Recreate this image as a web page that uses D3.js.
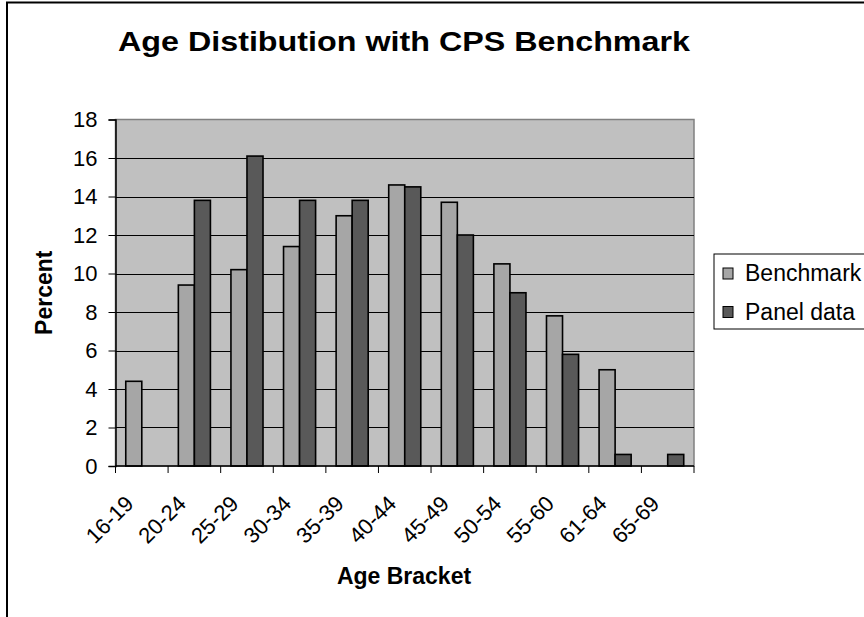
<!DOCTYPE html>
<html>
<head>
<meta charset="utf-8">
<script src="https://cdn.jsdelivr.net/npm/d3@7"></script>
<style>
    body { margin: 0; background: #ffffff; }
    text { font-family: "Liberation Sans", Arial, sans-serif; fill: #000000; }
</style>
</head>
<body>
<div id="chart"></div>
<script>
// Data
var categories = ["16-19", "20-24", "25-29", "30-34", "35-39", "40-44", "45-49", "50-54", "55-60", "61-64", "65-69"];
var benchmark = [4.4, 9.4, 10.2, 11.4, 13.0, 14.6, 13.7, 10.5, 7.8, 5.0, 0];
var panelData = [0, 13.8, 16.1, 13.8, 13.8, 14.5, 12.0, 9.0, 5.8, 0.6, 0.6];
var seriesNames = ["Benchmark", "Panel data"];
var yTicks = [0, 2, 4, 6, 8, 10, 12, 14, 16, 18];

// Global variables
var basewidth = 864,
    baseheight = 617,
    plot = { left: 115.5, right: 694, top: 119.5, bottom: 466 },
    colors = ["#a6a6a6", "#595959"];

var svg = d3.select("#chart").append("svg")
    .attr("width", basewidth)
    .attr("height", baseheight);

// Outer chart border (runs off the right and bottom edges)
svg.append("rect")
    .attr("x", 7)
    .attr("y", 2.5)
    .attr("width", 900)
    .attr("height", 700)
    .attr("fill", "#ffffff")
    .attr("stroke", "#000000")
    .attr("stroke-width", 2);

// setup x
var xScale = d3.scaleBand()
    .domain(categories)
    .range([plot.left, plot.right])
    .paddingInner(0)
    .paddingOuter(0);

var xInner = d3.scaleBand()
    .domain(seriesNames)
    .range([0, xScale.bandwidth()])
    .paddingInner(0)
    .paddingOuter(0.64);

// setup y
var yScale = d3.scaleLinear()
    .domain([0, 18])
    .range([plot.bottom, plot.top]);

// Plot area background
svg.append("rect")
    .attr("x", plot.left)
    .attr("y", plot.top)
    .attr("width", plot.right - plot.left)
    .attr("height", plot.bottom - plot.top)
    .attr("fill", "#c0c0c0")
    .attr("stroke", "#808080")
    .attr("stroke-width", 1.5);

// Gridlines
svg.append("g")
    .selectAll("line")
    .data(yTicks.filter(function (d) { return d > 0 && d < 18; }))
    .enter().append("line")
    .attr("x1", plot.left)
    .attr("x2", plot.right)
    .attr("y1", function (d) { return Math.round(yScale(d)) + 0.5; })
    .attr("y2", function (d) { return Math.round(yScale(d)) + 0.5; })
    .attr("stroke", "#000000")
    .attr("stroke-width", 1);

// Bars
var rows = categories.map(function (c, i) {
    return [
        { cat: c, series: seriesNames[0], value: benchmark[i] },
        { cat: c, series: seriesNames[1], value: panelData[i] }
    ];
});

svg.append("g")
    .selectAll("g")
    .data(rows)
    .enter().append("g")
    .attr("transform", function (d) { return "translate(" + xScale(d[0].cat) + ",0)"; })
    .selectAll("rect")
    .data(function (d) { return d.filter(function (e) { return e.value > 0; }); })
    .enter().append("rect")
    .attr("x", function (d) { return xInner(d.series); })
    .attr("y", function (d) { return yScale(d.value); })
    .attr("width", xInner.bandwidth())
    .attr("height", function (d) { return yScale(0) - yScale(d.value); })
    .attr("fill", function (d) { return colors[seriesNames.indexOf(d.series)]; })
    .attr("stroke", "#000000")
    .attr("stroke-width", 1.6);

// y-axis
var yAxis = d3.axisLeft(yScale)
    .tickValues(yTicks)
    .tickSize(7)
    .tickPadding(11);

var yaxis_class = svg.append("g")
    .attr("transform", "translate(" + plot.left + ",0)")
    .call(yAxis);

yaxis_class.select(".domain").attr("stroke", "#000000").attr("stroke-width", 1.5);
yaxis_class.selectAll(".tick line").attr("stroke", "#000000");
yaxis_class.selectAll(".tick text")
    .style("font-family", "'Liberation Sans', Arial, sans-serif")
    .style("font-size", "22px")
    .attr("fill", "#000000");

// x-axis, ticks between the categories
var xBounds = d3.range(categories.length + 1).map(function (i) {
    return plot.left + i * xScale.step();
});

var xaxis_class = svg.append("g");

xaxis_class.append("line")
    .attr("x1", plot.left)
    .attr("x2", plot.right)
    .attr("y1", plot.bottom)
    .attr("y2", plot.bottom)
    .attr("stroke", "#000000")
    .attr("stroke-width", 1.5);

xaxis_class.selectAll(".xtick")
    .data(xBounds)
    .enter().append("line")
    .attr("class", "xtick")
    .attr("x1", function (d) { return d; })
    .attr("x2", function (d) { return d; })
    .attr("y1", plot.bottom)
    .attr("y2", plot.bottom + 7)
    .attr("stroke", "#000000");

xaxis_class.selectAll(".xlabel")
    .data(categories)
    .enter().append("text")
    .attr("class", "xlabel")
    .attr("text-anchor", "end")
    .attr("transform", function (d) {
        return "translate(" + (xScale(d) + xScale.bandwidth() / 2 - 7) + "," + (plot.bottom + 39) + ") rotate(-45)";
    })
    .style("font-size", "22px")
    .text(function (d) { return d; });

// Title and axis labels
svg.append("text")
    .attr("x", 404)
    .attr("y", 51)
    .attr("text-anchor", "middle")
    .attr("textLength", 572)
    .attr("lengthAdjust", "spacingAndGlyphs")
    .style("font-size", "28px")
    .style("font-weight", "bold")
    .text("Age Distibution with CPS Benchmark");

svg.append("text")
    .attr("x", 404)
    .attr("y", 584)
    .attr("text-anchor", "middle")
    .style("font-size", "23px")
    .style("font-weight", "bold")
    .text("Age Bracket");

svg.append("text")
    .attr("transform", "translate(52," + ((plot.top + plot.bottom) / 2) + ") rotate(-90)")
    .attr("text-anchor", "middle")
    .style("font-size", "23px")
    .style("font-weight", "bold")
    .text("Percent");

// Legend
var legend = svg.append("g");

legend.append("rect")
    .attr("x", 714)
    .attr("y", 254)
    .attr("width", 200)
    .attr("height", 75)
    .attr("fill", "#ffffff")
    .attr("stroke", "#000000")
    .attr("stroke-width", 1);

var legendItems = legend.selectAll(".item")
    .data(seriesNames)
    .enter().append("g")
    .attr("class", "item")
    .attr("transform", function (d, i) { return "translate(723," + (273 + i * 38.5) + ")"; });

legendItems.append("rect")
    .attr("x", 0)
    .attr("y", -5)
    .attr("width", 10)
    .attr("height", 11)
    .attr("fill", function (d, i) { return colors[i]; })
    .attr("stroke", "#000000")
    .attr("stroke-width", 1);

legendItems.append("text")
    .attr("x", 22)
    .attr("y", 0)
    .attr("dy", "0.35em")
    .style("font-size", "23px")
    .text(function (d) { return d; });
</script>
</body>
</html>
